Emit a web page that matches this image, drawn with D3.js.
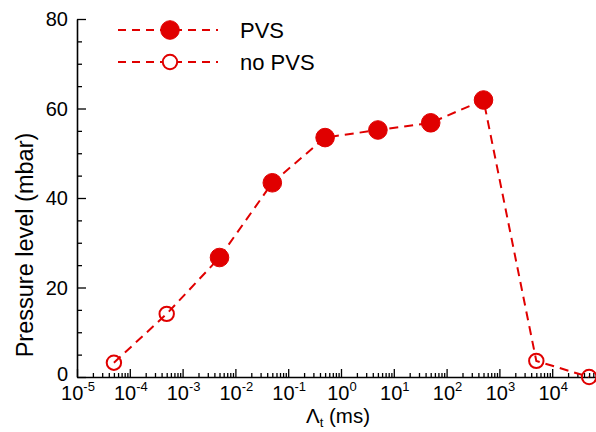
<!DOCTYPE html>
<html><head><meta charset="utf-8">
<script src="https://cdn.jsdelivr.net/npm/d3@7"></script>
<style>
body{margin:0;background:#fff;}
svg{display:block;font-family:"Liberation Sans",Arial,sans-serif;}
</style></head>
<body>
<script>
// Data
const allX = [5e-5, 5e-4, 5e-3, 5e-2, 5e-1, 5, 50, 500, 5e3, 5e4];
const allY = [3.2, 14.1, 26.7, 43.4, 53.5, 55.2, 56.8, 61.9, 3.6, 0];
const pvsFlag = [false, false, true, true, true, true, true, true, false, false];
const seriesNames = ["PVS", "no PVS"];
const xTickExponents = [-5, -4, -3, -2, -1, 0, 1, 2, 3, 4];
const yTicks = [0, 20, 40, 60, 80];

const W = 596, H = 432;
const red = "#e00000";
const svg = d3.select("body").append("svg").attr("width", W).attr("height", H);

const x = d3.scaleLog().domain([1e-5, 1e5]).range([77, 77 + 10 * 52.8]);
const y = d3.scaleLinear().domain([0, 80]).range([377, 19]);

// minor ticks
const minors = [];
for (let e = -5; e < 5; e++) for (let m = 2; m <= 9; m++) minors.push(m * Math.pow(10, e));
const majors = xTickExponents.map(e => Math.pow(10, e)).concat([1e5]);

const gx = svg.append("g").attr("transform", `translate(0,${y(0)})`);
gx.call(d3.axisBottom(x).tickValues(majors).tickSize(-8).tickSizeOuter(0).tickFormat(""));
gx.append("g").call(d3.axisBottom(x).tickValues(minors).tickSize(-4).tickSizeOuter(0).tickFormat(""))
  .select(".domain").remove();
gx.selectAll("line").attr("stroke", "#000").attr("stroke-width", 1.3);
gx.select(".domain").attr("stroke", "#000").attr("stroke-width", 1.6);

const yMinor = d3.range(0, 81, 5).filter(v => v % 20 !== 0);
const gy = svg.append("g").attr("transform", `translate(${x(1e-5)},0)`);
gy.call(d3.axisLeft(y).tickValues(yTicks).tickSize(-9).tickSizeOuter(0).tickFormat(""));
gy.append("g").call(d3.axisLeft(y).tickValues(yMinor).tickSize(-5).tickSizeOuter(0).tickFormat(""))
  .select(".domain").remove();
gy.selectAll("line").attr("stroke", "#000").attr("stroke-width", 1.3);
gy.select(".domain").attr("stroke", "#000").attr("stroke-width", 1.6);

// x tick labels
xTickExponents.forEach(e => {
  const t = svg.append("text").attr("x", x(Math.pow(10, e)) + 1).attr("y", 400)
    .attr("text-anchor", "middle").attr("font-size", 20).attr("fill", "#000");
  t.append("tspan").text("10");
  t.append("tspan").attr("dy", -9).attr("font-size", 13).text(String(e));
});

// y tick labels
yTicks.forEach(v => {
  svg.append("text").attr("x", 68).attr("y", y(v) + (v === 0 ? 4 : 7)).attr("text-anchor", "end")
    .attr("font-size", 20).attr("fill", "#000").text(v);
});

// axis titles
const xt = svg.append("text").attr("x", 338).attr("y", 423).attr("text-anchor", "middle")
  .attr("font-size", 20.5).attr("fill", "#000");
xt.append("tspan").text("Λ");
xt.append("tspan").attr("dy", 4).attr("font-size", 13).text("t");
xt.append("tspan").attr("dy", -4).text(" (ms)");

svg.append("text").attr("transform", `translate(33,${245}) rotate(-90)`)
  .attr("text-anchor", "middle").attr("font-size", 23.5).attr("fill", "#000")
  .text("Pressure level (mbar)");

// line
const pts = allX.map((v, i) => ({x: v, y: allY[i], pvs: pvsFlag[i]}));
svg.append("path").datum(pts)
  .attr("d", d3.line().x(d => x(d.x)).y(d => y(d.y)))
  .attr("fill", "none").attr("stroke", red).attr("stroke-width", 2)
  .attr("stroke-dasharray", "9,6");

svg.selectAll("circle.pt").data(pts).enter().append("circle")
  .attr("cx", d => x(d.x)).attr("cy", d => y(d.y))
  .attr("r", d => d.pvs ? 9.3 : 7.2)
  .attr("fill", d => d.pvs ? red : "#fff")
  .attr("fill-opacity", d => d.pvs ? 1 : 0)
  .attr("stroke", red).attr("stroke-width", d => d.pvs ? 1 : 2);

// legend
const leg = svg.append("g");
seriesNames.forEach((name, i) => {
  const ly = 30 + i * 32;
  leg.append("line").attr("x1", 118).attr("x2", 218).attr("y1", ly).attr("y2", ly)
    .attr("stroke", red).attr("stroke-width", 2).attr("stroke-dasharray", "8,6");
  leg.append("circle").attr("cx", 170).attr("cy", ly).attr("r", i === 0 ? 9.3 : 7.2)
    .attr("fill", i === 0 ? red : "#fff").attr("stroke", red).attr("stroke-width", i === 0 ? 1 : 2);
  leg.append("text").attr("x", 240).attr("y", ly + 8).attr("font-size", 22)
    .attr("fill", "#000").text(name);
});
</script>
</body></html>
